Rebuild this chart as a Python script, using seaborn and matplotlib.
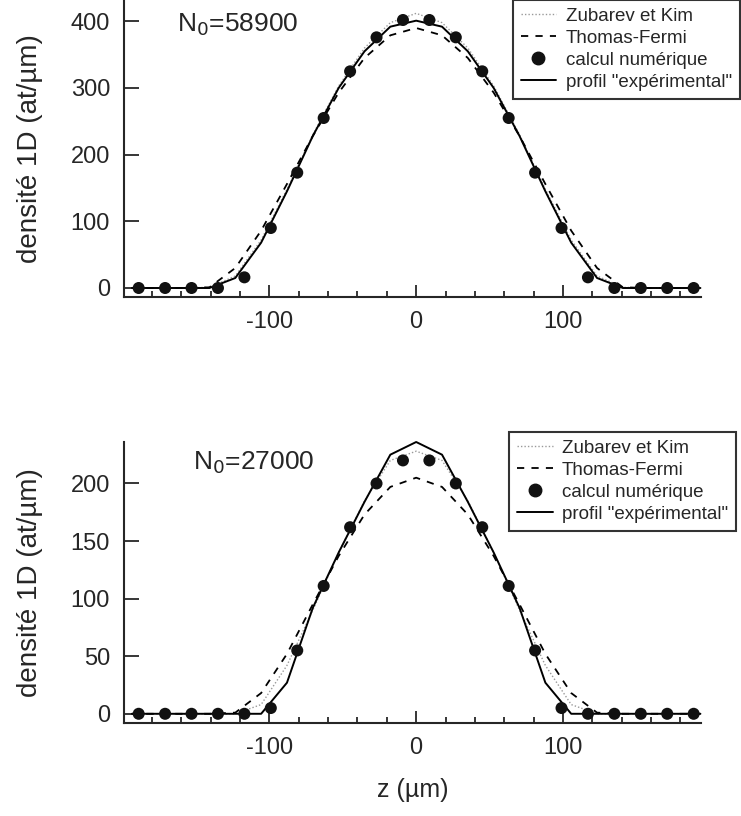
import numpy as np
import pandas as pd
import matplotlib
matplotlib.use("Agg")
import matplotlib.pyplot as plt
import seaborn as sns
from matplotlib.lines import Line2D

sns.set_style("ticks")
plt.rcParams['font.family'] = ['Liberation Sans', 'DejaVu Sans']
plt.rcParams['axes.unicode_minus'] = False

# ---- data ----
# grid of the line profiles (µm)
z_half = [0, 17.6, 35.2, 52.8, 70.4, 88.0, 105.6, 123.2, 140.8, 158.4, 176.0, 193.6]
# numeric calculation grid (µm)
z_num_half = [9, 27, 45, 63, 81, 99, 117, 135, 153, 171, 189]

# N0 = 58900
top_exp = [401, 392, 355, 300, 228, 145, 68, 15, 0, 0, 0, 0]
top_tf = [390, 379, 345, 293, 228, 156, 86, 30, 1, 0, 0, 0]
top_zk = [412, 398, 360, 303, 230, 148, 72, 18, 1, 0, 0, 0]
top_num = [402, 376, 325, 255, 173, 90, 16, 0, 0, 0, 0]

# N0 = 27000
bot_exp = [236, 225, 184, 140, 92, 27, 0, 0, 0, 0, 0, 0]
bot_tf = [205, 197, 173, 137, 95, 52, 18, 1, 0, 0, 0, 0]
bot_zk = [228, 220, 185, 140, 90, 42, 8, 0, 0, 0, 0, 0]
bot_num = [220, 200, 162, 111, 55, 5, 0, 0, 0, 0, 0]

labels = ["Zubarev et Kim", "Thomas-Fermi", "calcul numérique", 'profil "expérimental"']
n0_texts = ["N$_0$=58900", "N$_0$=27000"]


def sym(half_z, vals):
    z = [-v for v in half_z[::-1]] + list(half_z)
    y = list(vals[::-1]) + list(vals)
    if half_z[0] == 0:
        z = z[:len(half_z) - 1] + z[len(half_z):]
        y = y[:len(half_z) - 1] + y[len(half_z):]
    return pd.DataFrame({"z": z, "n": y})


W, H = 741, 816
fig = plt.figure(figsize=(W / 100, H / 100), dpi=100)
ax_top = fig.add_axes([124 / W, 1 - 297 / H, 577 / W, 297 / H])
ax_bot = fig.add_axes([124 / W, 1 - 723 / H, 577 / W, 281 / H])

fs_tick = 17
fs_leg = 13.5

panels = [
    (ax_top, top_zk, top_tf, top_num, top_exp, (-13.5, 432), [0, 100, 200, 300, 400],
     (-163, 395), (0.692, 1.0), n0_texts[0]),
    (ax_bot, bot_zk, bot_tf, bot_num, bot_exp, (-8, 236), [0, 50, 100, 150, 200],
     (-152, 218), (0.687, 1 - 432 / H), n0_texts[1]),
]

for ax, zk, tf, num, ex, ylim, yt, tpos, legpos, txt in panels:
    sns.lineplot(data=sym(z_half, zk), x="z", y="n", ax=ax, color="#999999",
                 linestyle=(0, (1, 1.5)), linewidth=1.0, sort=False, clip_on=False)
    sns.lineplot(data=sym(z_half, tf), x="z", y="n", ax=ax, color="black",
                 linestyle=(0, (4, 4)), linewidth=1.3, sort=False)
    sns.lineplot(data=sym(z_half, ex), x="z", y="n", ax=ax, color="black",
                 linestyle="-", linewidth=1.4, sort=False, clip_on=False)
    sns.scatterplot(data=sym(z_num_half, num), x="z", y="n", ax=ax, color="#111111",
                    s=75, edgecolor="none", zorder=5, clip_on=False)

    ax.set_xlim(-199, 194)
    ax.set_ylim(*ylim)
    ax.set_yticks(yt)
    ax.set_xticks([-100, 0, 100])
    ax.set_xticks(np.arange(-180, 181, 20), minor=True)
    ax.tick_params(axis="y", direction="in", length=10.5, width=1.3, labelsize=fs_tick, pad=10)
    ax.tick_params(axis="x", which="major", direction="in", length=8.5, width=1.3,
                   labelsize=fs_tick, pad=10)
    ax.tick_params(axis="x", which="minor", direction="in", length=4.3, width=1.3)
    sns.despine(ax=ax)
    for s in ["left", "bottom"]:
        ax.spines[s].set_linewidth(1.5)
    ax.set_xlabel("")
    ax.set_ylabel("densité 1D (at/µm)", fontsize=20)
    ax.text(tpos[0], tpos[1], txt, fontsize=19, va="center", ha="left")

    handles = [
        Line2D([], [], color="#999999", linestyle=(0, (1, 1.5)), linewidth=1.0),
        Line2D([], [], color="black", linestyle=(0, (4, 4)), linewidth=1.3),
        Line2D([], [], color="#111111", marker="o", linestyle="none", markersize=9),
        Line2D([], [], color="black", linestyle="-", linewidth=1.4),
    ]
    leg = fig.legend(handles, labels, loc="upper left", bbox_to_anchor=legpos,
                     bbox_transform=fig.transFigure, fontsize=fs_leg, frameon=True,
                     fancybox=False, shadow=False, handlelength=1.9, handletextpad=0.5,
                     labelspacing=0.26, borderpad=0.42, borderaxespad=0)
    leg.get_frame().set_edgecolor("black")
    leg.get_frame().set_linewidth(1.5)

ax_bot.set_xlabel("z (µm)", fontsize=18, labelpad=14)
ax_top.yaxis.set_label_coords(-0.14, 0.5)
ax_bot.yaxis.set_label_coords(-0.14, 0.5)

fig.savefig("out.png", dpi=100)
